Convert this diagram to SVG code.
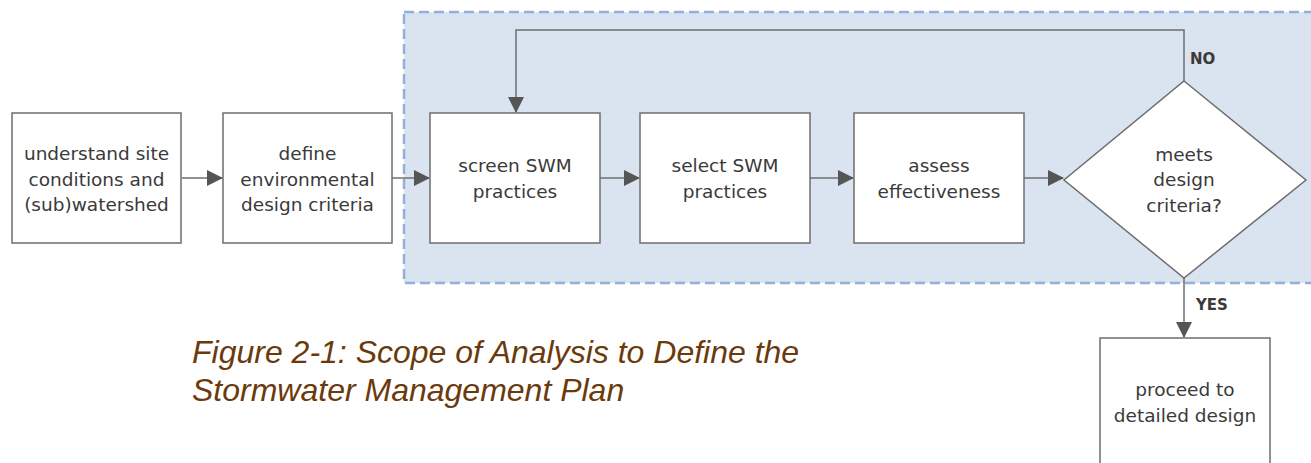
<svg xmlns="http://www.w3.org/2000/svg" width="1311" height="463" viewBox="0 0 1311 463">
<defs>
<style>
.box{fill:#fff;stroke:#6e6e6e;stroke-width:1.5}
.lbl{font-family:"DejaVu Sans",Verdana,sans-serif;font-size:18.5px;fill:#3a3a3a;text-anchor:middle}
.yn{font-family:"DejaVu Sans",Verdana,sans-serif;font-size:15px;font-weight:bold;fill:#3a3a3a}
.con{fill:none;stroke:#6e6e6e;stroke-width:1.5}
.cap{font-family:"Liberation Sans",Arial,sans-serif;font-style:italic;font-size:32px;fill:#6b3a0c}
</style>
<marker id="ah" viewBox="0 0 16 16" refX="15" refY="8" markerWidth="16" markerHeight="16" markerUnits="userSpaceOnUse" orient="auto">
<path d="M0,0 L16,8 L0,16 Z" fill="#555"/>
</marker>
</defs>
<rect width="1311" height="463" fill="#fff"/>
<rect id="scope" x="404" y="12" width="920" height="271" fill="#dae3f0" stroke="#92b1d8" stroke-width="2.5" stroke-dasharray="10,5"/>
<g id="connectors">
<line class="con" x1="182" y1="178" x2="222" y2="178" marker-end="url(#ah)"/>
<line class="con" x1="392" y1="178" x2="429" y2="178" marker-end="url(#ah)"/>
<line class="con" x1="600" y1="178" x2="639" y2="178" marker-end="url(#ah)"/>
<line class="con" x1="810" y1="178" x2="853" y2="178" marker-end="url(#ah)"/>
<line class="con" x1="1024" y1="178" x2="1063" y2="178" marker-end="url(#ah)"/>
<polyline class="con" points="1184,81 1184,30 516,30 516,112" marker-end="url(#ah)"/>
<line class="con" x1="1184" y1="278" x2="1184" y2="337" marker-end="url(#ah)"/>
<text class="yn" x="1190" y="64">NO</text>
<text class="yn" x="1196" y="310">YES</text>
</g>
<g id="n1"><rect class="box" x="12" y="113" width="169" height="130"/>
<text class="lbl"><tspan x="96.5" y="160">understand site</tspan><tspan x="96.5" y="185.5">conditions and</tspan><tspan x="96.5" y="211">(sub)watershed</tspan></text></g>
<g id="n2"><rect class="box" x="223" y="113" width="169" height="130"/>
<text class="lbl"><tspan x="307.5" y="160">define</tspan><tspan x="307.5" y="185.5">environmental</tspan><tspan x="307.5" y="211">design criteria</tspan></text></g>
<g id="n3"><rect class="box" x="430" y="113" width="170" height="130"/>
<text class="lbl"><tspan x="515" y="172">screen SWM</tspan><tspan x="515" y="198">practices</tspan></text></g>
<g id="n4"><rect class="box" x="640" y="113" width="170" height="130"/>
<text class="lbl"><tspan x="725" y="172">select SWM</tspan><tspan x="725" y="198">practices</tspan></text></g>
<g id="n5"><rect class="box" x="854" y="113" width="170" height="130"/>
<text class="lbl"><tspan x="939" y="172">assess</tspan><tspan x="939" y="198">effectiveness</tspan></text></g>
<g id="n6"><polygon class="box" points="1184,81 1306,180 1184,278 1064,180"/>
<text class="lbl"><tspan x="1184" y="161">meets</tspan><tspan x="1184" y="186">design</tspan><tspan x="1184" y="212">criteria?</tspan></text></g>
<g id="n7"><rect class="box" x="1100" y="338" width="170" height="140"/>
<text class="lbl"><tspan x="1185" y="396">proceed to</tspan><tspan x="1185" y="422">detailed design</tspan></text></g>
<text class="cap"><tspan x="192" y="363">Figure 2-1: Scope of Analysis to Define the</tspan><tspan x="192" y="401">Stormwater Management Plan</tspan></text>
</svg>
